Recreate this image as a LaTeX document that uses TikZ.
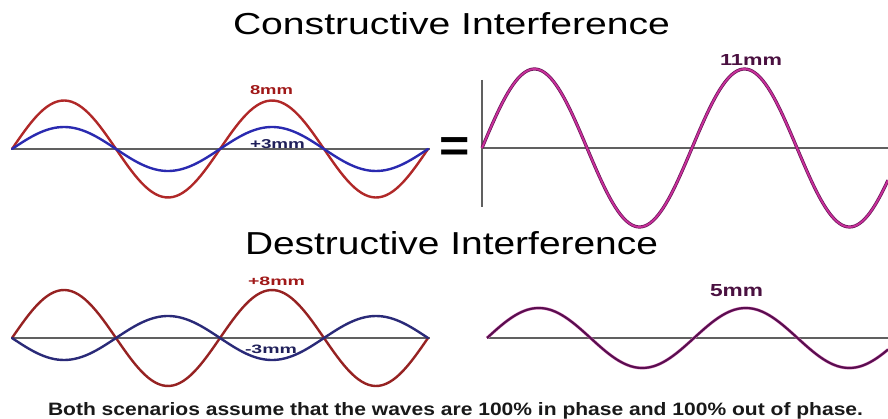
\documentclass[tikz,border=0pt]{standalone}
\usepackage{fontspec}
\setmainfont{Liberation Sans}
\usepackage{graphicx}
\definecolor{redwave}{HTML}{B02828}
\definecolor{bluewave}{HTML}{2A2AB0}
\definecolor{navywave}{HTML}{2A2A78}
\definecolor{magwave}{HTML}{C8309A}
\definecolor{magdark}{HTML}{6A1458}
\definecolor{purpwave}{HTML}{5A0E50}
\definecolor{axisgray}{HTML}{606060}
\definecolor{lblred}{HTML}{A01818}
\definecolor{lblnavy}{HTML}{20205A}
\definecolor{lblpurp}{HTML}{4A1040}
\begin{document}
\begin{tikzpicture}[x=1pt,y=-1pt,
  axisline/.style={draw=axisgray,line width=1.8pt},
  wave/.style={line width=2.4pt,line join=round,line cap=round},
  lbl/.style={inner sep=0pt,outer sep=0pt,anchor=base west},
  ]
\useasboundingbox[fill=white] (0,0) rectangle (888,419);

% titles
\node[lbl] (t1) at (233,35) {\resizebox{437pt}{22pt}{Constructive Interference}};
\node[lbl] (t2) at (245,255) {\resizebox{413pt}{23pt}{Destructive Interference}};

% top left
\coordinate (tla) at (12,149);
\coordinate (tlb) at (430,149);
\draw[axisline] (tla) -- (tlb);
\draw[wave,redwave] plot[domain=12:428,samples=120] (\x,{149-48.5*sin((\x-12)/208*360)});
\draw[wave,bluewave] plot[domain=12:428,samples=120] (\x,{149-22*sin((\x-12)/208*360)});
\node[lbl,text=lblred] (l8) at (250,95) {\resizebox{43pt}{9pt}{\bfseries 8mm}};
\node[lbl,text=lblnavy] (l3) at (250,149) {\resizebox{55pt}{9pt}{\bfseries +3mm}};

% equals
\node[inner sep=0pt,anchor=base] (eq) at (454.5,162) {\scalebox{1.13}[1]{\fontsize{46}{46}\selectfont\bfseries =}};

% top right
\coordinate (tra) at (482,148);
\coordinate (trb) at (888,148);
\coordinate (trv1) at (482,80);
\coordinate (trv2) at (482,207);
\draw[axisline] (trv1) -- (trv2);
\draw[axisline] (tra) -- (trb);
\draw[line width=3.2pt,magdark,line join=round] plot[domain=482:888,samples=160] (\x,{148-79*sin((\x-482)/210*360)});
\draw[line width=1.8pt,magwave,line join=round] plot[domain=482:888,samples=160] (\x,{148-79*sin((\x-482)/210*360)});
\node[lbl,text=lblpurp] (l11) at (720,66) {\resizebox{62pt}{11pt}{\bfseries 11mm}};

% bottom left
\coordinate (bla) at (12,338);
\coordinate (blb) at (430,338);
\draw[axisline] (bla) -- (blb);
\draw[wave,redwave!85!black] plot[domain=12:428,samples=120] (\x,{338-48*sin((\x-12)/208*360)});
\draw[wave,navywave] plot[domain=12:428,samples=120] (\x,{338+22*sin((\x-12)/208*360)});
\node[lbl,text=lblred] (lp8) at (248,285.5) {\resizebox{57pt}{8.5pt}{\bfseries +8mm}};
\node[lbl,text=lblnavy] (lm3) at (245,353) {\resizebox{52pt}{8.5pt}{\bfseries -3mm}};

% bottom right
\coordinate (bra) at (487,338);
\coordinate (brb) at (888,338);
\draw[axisline] (bra) -- (brb);
\draw[line width=3pt,magwave!60,line join=round] plot[domain=487:888,samples=160] (\x,{338-30*sin((\x-487)/207*360)});
\draw[line width=2.2pt,purpwave,line join=round] plot[domain=487:888,samples=160] (\x,{338-30*sin((\x-487)/207*360)});
\node[lbl,text=lblpurp] (l5) at (710,297) {\resizebox{53pt}{12pt}{\bfseries 5mm}};

% caption
\node[lbl,text=black!90] (cap) at (48,415) {\resizebox{815pt}{13pt}{\bfseries Both scenarios assume that the waves are 100\% in phase and 100\% out of phase.}};
\end{tikzpicture}
\end{document}
